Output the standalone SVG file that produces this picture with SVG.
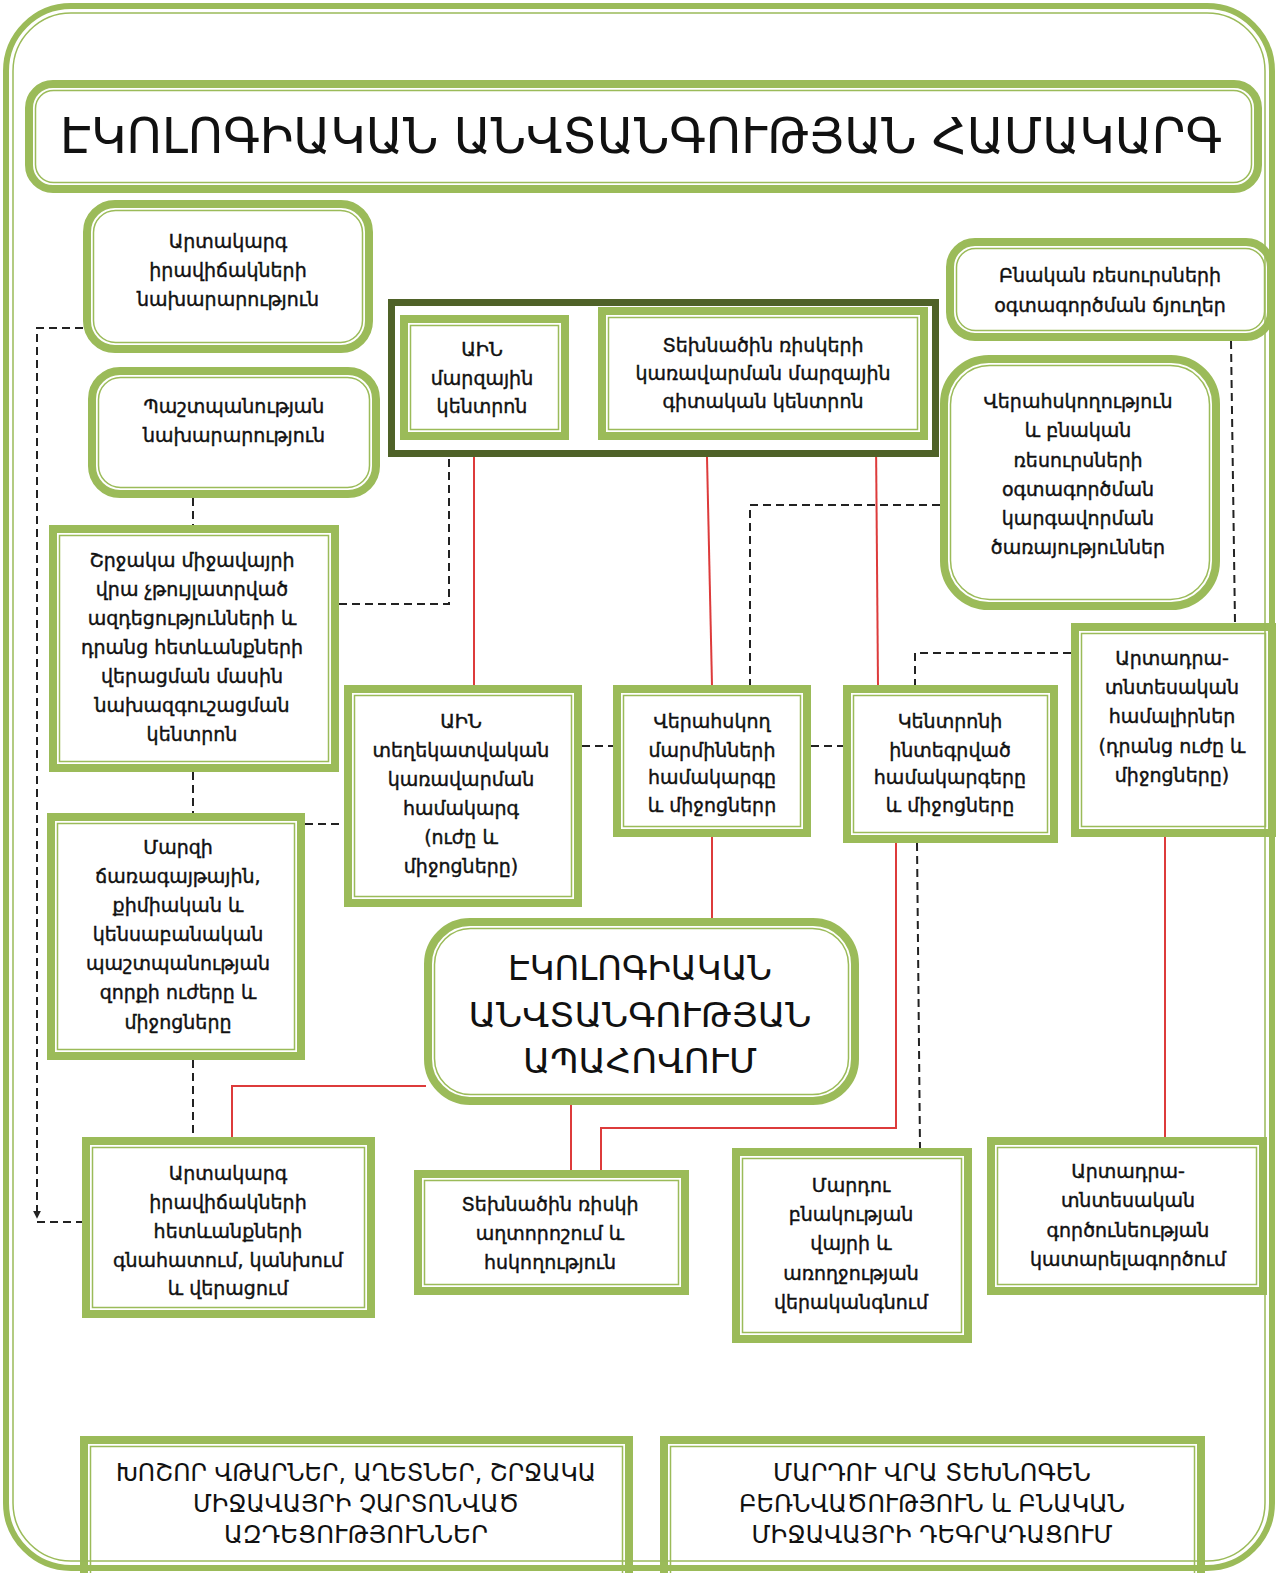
<svg xmlns="http://www.w3.org/2000/svg" width="1278" height="1573" viewBox="0 0 1278 1573">
<defs>
<style>
.thick{fill:#fff;stroke:#9bbb59;stroke-width:8}
.thin{fill:none;stroke:#9bbb59;stroke-width:1.5}
.t{font-family:"DejaVu Sans","Noto Sans",sans-serif;font-size:19px;text-anchor:middle;fill:#111;stroke:#111;stroke-width:0.4}
.big{font-family:"DejaVu Sans","Noto Sans",sans-serif;text-anchor:middle;fill:#111}
.dash{fill:none;stroke:#222;stroke-width:2;stroke-dasharray:8 5}
.red{fill:none;stroke:#dd3b3b;stroke-width:2}
</style>
<marker id="arr" viewBox="0 0 10 10" refX="9" refY="5" markerWidth="8" markerHeight="8" orient="auto" markerUnits="userSpaceOnUse">
<path d="M0,0 L10,5 L0,10 z" fill="#222"/>
</marker>
</defs>
<rect width="1278" height="1573" fill="#fff"/>

<g id="connectors">
<path class="dash" d="M83,328 H37 V1218" marker-end="url(#arr)"/>
<path class="dash" d="M37,1222 H82"/>
<path class="dash" d="M193,498 V525"/>
<path class="dash" d="M193,772 V813"/>
<path class="dash" d="M193,1060 V1137"/>
<path class="dash" d="M339,604 H449 V457"/>
<path class="dash" d="M305,824 H344"/>
<path class="dash" d="M582,746 H613"/>
<path class="dash" d="M811,746 H843"/>
<path class="dash" d="M940,505 H750 V685"/>
<path class="dash" d="M1231,341 L1235,623"/>
<path class="dash" d="M1071,653 H915 V685"/>
<path class="dash" d="M917,843 L920,1148"/>
<path class="red" d="M474,440 V685"/>
<path class="red" d="M707,457 L712,685"/>
<path class="red" d="M876,440 L878,685"/>
<path class="red" d="M712,837 V918"/>
<path class="red" d="M896,843 V1128 H601 V1170"/>
<path class="red" d="M571,1105 V1170"/>
<path class="red" d="M426,1086 H232 V1137"/>
<path class="red" d="M1165,837 V1137"/>
<path d="M569,379 H598" stroke="#555" stroke-width="2"/>
</g>

<g id="title">
<rect class="thick" x="29" y="84" width="1229" height="105" rx="24"/>
<rect class="thin" x="35.5" y="90.5" width="1216" height="92" rx="18"/>
<text class="big" x="641" y="153" font-size="49" textLength="1162" lengthAdjust="spacingAndGlyphs">ԷԿՈԼՈԳԻԱԿԱՆ ԱՆՎՏԱՆԳՈՒԹՅԱՆ ՀԱՄԱԿԱՐԳ</text>
</g>

<g id="n-emergency-ministry">
<rect class="thick" x="87" y="204" width="282" height="145" rx="28"/>
<rect class="thin" x="93.5" y="210.5" width="269" height="132" rx="22"/>
<text class="t" x="228" y="248">Արտակարգ</text>
<text class="t" x="228" y="277">իրավիճակների</text>
<text class="t" x="228" y="306">նախարարություն</text>
</g>

<g id="n-defense-ministry">
<rect class="thick" x="92" y="371" width="284" height="123" rx="28"/>
<rect class="thin" x="98.5" y="377.5" width="271" height="110" rx="22"/>
<text class="t" x="234" y="413">Պաշտպանության</text>
<text class="t" x="234" y="442">նախարարություն</text>
</g>

<g id="n-resource-sectors">
<rect class="thick" x="950" y="242" width="321" height="95" rx="25"/>
<rect class="thin" x="956.5" y="248.5" width="308" height="82" rx="19"/>
<text class="t" x="1110" y="282">Բնական ռեսուրսների</text>
<text class="t" x="1110" y="312">օգտագործման ճյուղեր</text>
</g>

<g id="n-regional-group">
<rect x="391.5" y="302.5" width="544" height="151" fill="#fff" stroke="#4f6228" stroke-width="7"/>
</g>

<g id="n-regional-center">
<rect class="thick" x="404" y="319" width="161" height="117"/>
<rect class="thin" x="410.5" y="325.5" width="148" height="104"/>
<text class="t" x="482" y="356">ԱԻՆ</text>
<text class="t" x="482" y="385">մարզային</text>
<text class="t" x="482" y="413">կենտրոն</text>
</g>

<g id="n-risk-science-center">
<rect class="thick" x="602" y="311" width="322" height="125"/>
<rect class="thin" x="608.5" y="317.5" width="309" height="112"/>
<text class="t" x="763" y="352">Տեխնածին ռիսկերի</text>
<text class="t" x="763" y="380">կառավարման մարզային</text>
<text class="t" x="763" y="408">գիտական կենտրոն</text>
</g>

<g id="n-inspection-services">
<rect class="thick" x="944" y="359" width="272" height="247" rx="45"/>
<rect class="thin" x="950.5" y="365.5" width="259" height="234" rx="39"/>
<text class="t" x="1078" y="408">Վերահսկողություն</text>
<text class="t" x="1078" y="437">և բնական</text>
<text class="t" x="1078" y="467">ռեսուրսների</text>
<text class="t" x="1078" y="496">օգտագործման</text>
<text class="t" x="1078" y="525">կարգավորման</text>
<text class="t" x="1078" y="554">ծառայություններ</text>
</g>

<g id="n-warning-center">
<rect class="thick" x="53" y="529" width="282" height="239"/>
<rect class="thin" x="59.5" y="535.5" width="269" height="226"/>
<text class="t" x="192" y="567">Շրջակա միջավայրի</text>
<text class="t" x="192" y="596">վրա չթույլատրված</text>
<text class="t" x="192" y="625">ազդեցությունների և</text>
<text class="t" x="192" y="654">դրանց հետևանքների</text>
<text class="t" x="192" y="683">վերացման մասին</text>
<text class="t" x="192" y="712">նախազգուշացման</text>
<text class="t" x="192" y="741">կենտրոն</text>
</g>

<g id="n-info-system">
<rect class="thick" x="348" y="689" width="230" height="214"/>
<rect class="thin" x="354.5" y="695.5" width="217" height="201"/>
<text class="t" x="461" y="728">ԱԻՆ</text>
<text class="t" x="461" y="757">տեղեկատվական</text>
<text class="t" x="461" y="786">կառավարման</text>
<text class="t" x="461" y="815">համակարգ</text>
<text class="t" x="461" y="844">(ուժը և</text>
<text class="t" x="461" y="873">միջոցները)</text>
</g>

<g id="n-inspection-bodies">
<rect class="thick" x="617" y="689" width="190" height="144"/>
<rect class="thin" x="623.5" y="695.5" width="177" height="131"/>
<text class="t" x="712" y="728">Վերահսկող</text>
<text class="t" x="712" y="757">մարմինների</text>
<text class="t" x="712" y="784">համակարգը</text>
<text class="t" x="712" y="812">և միջոցներր</text>
</g>

<g id="n-integrated-systems">
<rect class="thick" x="847" y="689" width="207" height="150"/>
<rect class="thin" x="853.5" y="695.5" width="194" height="137"/>
<text class="t" x="950" y="728">Կենտրոնի</text>
<text class="t" x="950" y="757">ինտեգրված</text>
<text class="t" x="950" y="784">համակարգերը</text>
<text class="t" x="950" y="812">և միջոցները</text>
</g>

<g id="n-industrial-complexes">
<rect class="thick" x="1075" y="627" width="197" height="206"/>
<rect class="thin" x="1081.5" y="633.5" width="184" height="193"/>
<text class="t" x="1172" y="665">Արտադրա-</text>
<text class="t" x="1172" y="694">տնտեսական</text>
<text class="t" x="1172" y="723">համալիրներ</text>
<text class="t" x="1172" y="753">(դրանց ուժը և</text>
<text class="t" x="1172" y="782">միջոցները)</text>
</g>

<g id="n-safety-provision">
<rect class="thick" x="428" y="922" width="427" height="179" rx="42"/>
<rect class="thin" x="434.5" y="928.5" width="414" height="166" rx="36"/>
<text class="big" x="640" y="980" font-size="34" textLength="264" lengthAdjust="spacingAndGlyphs">ԷԿՈԼՈԳԻԱԿԱՆ</text>
<text class="big" x="640" y="1027" font-size="34" textLength="343" lengthAdjust="spacingAndGlyphs">ԱՆՎՏԱՆԳՈՒԹՅԱՆ</text>
<text class="big" x="640" y="1073" font-size="34" textLength="234" lengthAdjust="spacingAndGlyphs">ԱՊԱՀՈՎՈՒՄ</text>
</g>

<g id="n-rcb-troops">
<rect class="thick" x="51" y="817" width="250" height="239"/>
<rect class="thin" x="57.5" y="823.5" width="237" height="226"/>
<text class="t" x="178" y="854">Մարզի</text>
<text class="t" x="178" y="883">ճառագայթային,</text>
<text class="t" x="178" y="912">քիմիական և</text>
<text class="t" x="178" y="941">կենսաբանական</text>
<text class="t" x="178" y="970">պաշտպանության</text>
<text class="t" x="178" y="999">զորքի ուժերը և</text>
<text class="t" x="178" y="1029">միջոցները</text>
</g>

<g id="n-emergency-response">
<rect class="thick" x="86" y="1141" width="285" height="173"/>
<rect class="thin" x="92.5" y="1147.5" width="272" height="160"/>
<text class="t" x="228" y="1180">Արտակարգ</text>
<text class="t" x="228" y="1209">իրավիճակների</text>
<text class="t" x="228" y="1238">հետևանքների</text>
<text class="t" x="228" y="1267">գնահատում, կանխում</text>
<text class="t" x="228" y="1295">և վերացում</text>
</g>

<g id="n-risk-monitoring">
<rect class="thick" x="418" y="1174" width="267" height="117"/>
<rect class="thin" x="424.5" y="1180.5" width="254" height="104"/>
<text class="t" x="550" y="1211">Տեխնածին ռիսկի</text>
<text class="t" x="550" y="1240">աղտորոշում և</text>
<text class="t" x="550" y="1269">հսկողություն</text>
</g>

<g id="n-habitat-restoration">
<rect class="thick" x="736" y="1152" width="232" height="187"/>
<rect class="thin" x="742.5" y="1158.5" width="219" height="174"/>
<text class="t" x="851" y="1192">Մարդու</text>
<text class="t" x="851" y="1221">բնակության</text>
<text class="t" x="851" y="1250">վայրի և</text>
<text class="t" x="851" y="1280">առողջության</text>
<text class="t" x="851" y="1309">վերականգնում</text>
</g>

<g id="n-industrial-improvement">
<rect class="thick" x="991" y="1141" width="272" height="150"/>
<rect class="thin" x="997.5" y="1147.5" width="259" height="137"/>
<text class="t" x="1128" y="1178">Արտադրա-</text>
<text class="t" x="1128" y="1207">տնտեսական</text>
<text class="t" x="1128" y="1237">գործունեության</text>
<text class="t" x="1128" y="1266">կատարելագործում</text>
</g>

<g id="n-disasters">
<rect class="thick" x="84" y="1440" width="545" height="150"/>
<rect class="thin" x="90.5" y="1446.5" width="532" height="140"/>
<text class="big" x="356" y="1481" font-size="25" textLength="480" lengthAdjust="spacingAndGlyphs">ԽՈՇՈՐ ՎԹԱՐՆԵՐ, ԱՂԵՏՆԵՐ, ՇՐՋԱԿԱ</text>
<text class="big" x="356" y="1512" font-size="25" textLength="326" lengthAdjust="spacingAndGlyphs">ՄԻՋԱՎԱՅՐԻ ՉԱՐՏՈՆՎԱԾ</text>
<text class="big" x="356" y="1543" font-size="25" textLength="264" lengthAdjust="spacingAndGlyphs">ԱԶԴԵՑՈՒԹՅՈՒՆՆԵՐ</text>
</g>

<g id="n-technogenic-load">
<rect class="thick" x="664" y="1440" width="537" height="150"/>
<rect class="thin" x="670.5" y="1446.5" width="524" height="140"/>
<text class="big" x="932" y="1481" font-size="25" textLength="318" lengthAdjust="spacingAndGlyphs">ՄԱՐԴՈՒ ՎՐԱ ՏԵԽՆՈԳԵՆ</text>
<text class="big" x="932" y="1512" font-size="25" textLength="386" lengthAdjust="spacingAndGlyphs">ԲԵՌՆՎԱԾՈՒԹՅՈՒՆ և ԲՆԱԿԱՆ</text>
<text class="big" x="932" y="1543" font-size="25" textLength="361" lengthAdjust="spacingAndGlyphs">ՄԻՋԱՎԱՅՐԻ ԴԵԳՐԱԴԱՑՈՒՄ</text>
</g>

<g id="frame">
<rect x="6" y="6" width="1266" height="1562" rx="65" fill="none" stroke="#9bbb59" stroke-width="6"/>
<rect x="13" y="13" width="1252" height="1548" rx="58" fill="none" stroke="#9bbb59" stroke-width="1.5"/>
</g>
</svg>
